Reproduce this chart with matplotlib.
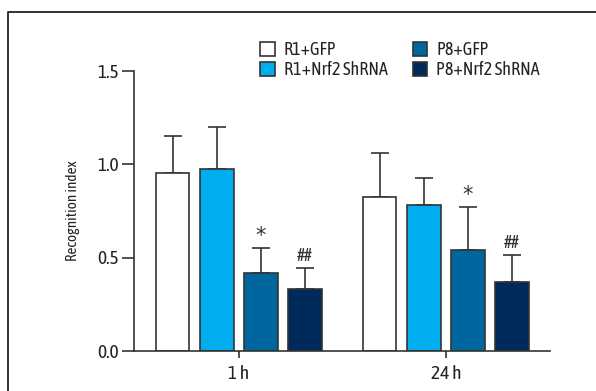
import matplotlib
matplotlib.use("Agg")
import matplotlib.pyplot as plt
from matplotlib.lines import Line2D
from matplotlib.patches import Patch
import numpy as np

plt.rcParams['font.family'] = ['Asap Condensed', 'Fira Sans Condensed', 'DejaVu Sans']

groups = ["1 h", "24 h"]
series = ["R1+GFP", "R1+Nrf2 ShRNA", "P8+GFP", "P8+Nrf2 ShRNA"]
colors = ["#ffffff", "#00aeef", "#00679e", "#002a5c"]
means = [
    [0.953, 0.825],
    [0.975, 0.782],
    [0.419, 0.542],
    [0.332, 0.371],
]
errors = [
    [0.195, 0.235],
    [0.225, 0.145],
    [0.132, 0.228],
    [0.113, 0.144],
]
marks = ["", "", "*", "##"]

W, H = 596, 391
fig = plt.figure(figsize=(W / 100, H / 100), dpi=100)
ax = fig.add_axes([134 / W, (H - 351) / H, (550 - 134) / W, (351 - 70.5) / H])

edge = "#333333"
x = np.arange(len(groups))
step = 0.2135
width = 0.162
for i, (name, col) in enumerate(zip(series, colors)):
    pos = x + (i - 1.5) * step
    ax.bar(pos, means[i], width, color=col, edgecolor=edge, linewidth=1.2, label=name, zorder=2)
    ax.errorbar(pos, means[i], yerr=[np.zeros(len(groups)), errors[i]], fmt="none",
                ecolor=edge, elinewidth=1.2, capsize=6.5, capthick=1.2, zorder=1)
    for p, m, e in zip(pos, means[i], errors[i]):
        if marks[i] == "*":
            ax.text(p, m + e + 0.01, "*", ha="center", va="bottom", fontsize=15,
                    family="DejaVu Sans", color=edge)
        elif marks[i]:
            ax.text(p, m + e + 0.015, marks[i], ha="center", va="bottom", fontsize=13, color=edge)

ax.set_xlim(-0.507, 1.503)
ax.set_ylim(0, 1.5)
ax.set_yticks([0.0, 0.5, 1.0, 1.5])
ax.set_yticklabels(["0.0", "0.5", "1.0", "1.5"])
ax.set_xticks(x)
ax.set_xticklabels(groups)
ax.tick_params(axis="y", length=9, width=1.2, color=edge, labelsize=14, pad=2, labelcolor="#222222")
ax.tick_params(axis="x", length=5, width=1.2, color=edge, labelsize=14, pad=5, labelcolor="#222222")
for s in ["top", "right"]:
    ax.spines[s].set_visible(False)
for s in ["left", "bottom"]:
    ax.spines[s].set_color(edge)
    ax.spines[s].set_linewidth(1.2)
ax.set_ylabel("Recognition index", fontsize=11, labelpad=12, color="#222222")

handles = [Patch(facecolor=c, edgecolor=edge, linewidth=1.2) for c in colors]
fig.legend(handles, series, ncol=2, frameon=False, fontsize=13, labelcolor="#222222",
           loc="upper left", bbox_to_anchor=(253 / W, 1 - 34 / H),
           handlelength=0.8, handleheight=0.8, handletextpad=0.5,
           columnspacing=1.4, labelspacing=0.1, borderaxespad=0)

# outer frame (left and top only)
fig.add_artist(Line2D([8 / W, 8 / W, 1], [0, 1 - 12 / H, 1 - 12 / H],
                      transform=fig.transFigure, color="#222222", lw=1.3))

fig.savefig("out.png", dpi=100)
